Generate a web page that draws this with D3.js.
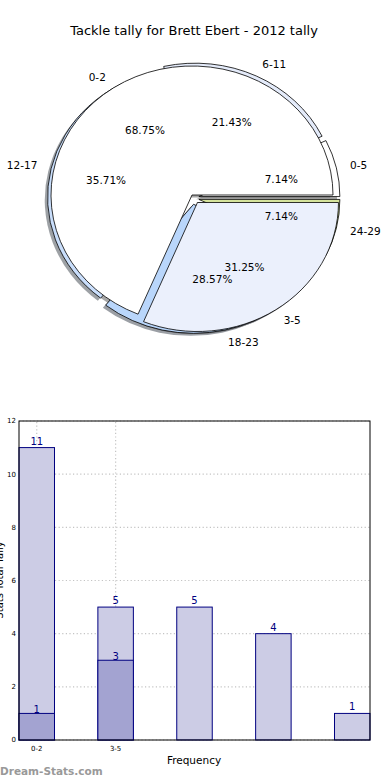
<!DOCTYPE html>
<html>
<head>
<meta charset="utf-8">
<script src="https://cdn.jsdelivr.net/npm/d3@7"></script>
<style>
  body { margin: 0; background: #fff; }
  svg { display: block; font-family: "DejaVu Sans", sans-serif; }
</style>
</head>
<body>
<script>
// pie data (two pies drawn on top of each other)
var innerLabels = ["0-2", "3-5"];
var innerValues = [11, 5];
var innerColors = ["#ffffff", "#ebf0fc"];
var innerExplode = [0, 0.07];

var outerLabels = ["0-5", "6-11", "12-17", "18-23", "24-29"];
var outerValues = [2, 6, 10, 8, 2];
var outerColors = ["#ffffff", "#e4ebfa", "#c9defb", "#b9d6fb", "#d5e39c"];
var outerExplode = [0.05, 0.05, 0.025, 0.05, 0.05];

// bar data
var barLabels = ["0-2", "3-5", "", "", ""];
var barTotals = [11, 5, 5, 4, 1];
var barParts = [1, 3];

var width = 390, height = 780;

var svg = d3.select("body").append("svg")
  .attr("width", width)
  .attr("height", height);

svg.append("text")
  .attr("x", 194)
  .attr("y", 35)
  .attr("text-anchor", "middle")
  .style("font-size", "13px")
  .text("Tackle tally for Brett Ebert - 2012 tally");

var rx = 141, ry = 129, R = 100;

var arc = d3.arc().innerRadius(0).outerRadius(R);

var pie = d3.pie().sort(null).startAngle(0).endAngle(2 * Math.PI);

// all shadows go underneath both pies
var shadowLayer = svg.append("g");
var outerLayer = svg.append("g");
var innerLayer = svg.append("g");

function fmtPct(v, total) {
  return (v / total * 100).toFixed(2) + "%";
}

function drawPie(layer, values, labels, colors, explode, cx, cy) {
  var total = d3.sum(values);
  var slices = pie(values).map(function (d, i) {
    var t1 = d.startAngle, t2 = d.endAngle, tm = (t1 + t2) / 2;
    var ox = explode[i] * rx * Math.cos(tm),
      oy = -explode[i] * ry * Math.sin(tm);
    return {
      value: d.value, i: i, tm: tm,
      x: cx + ox, y: cy + oy,
      // d3.arc measures from 12 o'clock clockwise
      a: { startAngle: Math.PI / 2 - t2, endAngle: Math.PI / 2 - t1 }
    };
  });

  shadowLayer.append("g").selectAll("path")
    .data(slices)
    .enter().append("path")
    .attr("transform", function (d) {
      return "translate(" + (d.x - 0.02 * rx) + "," + (d.y + 0.02 * ry) + ") scale(" + rx / R + "," + ry / R + ")";
    })
    .attr("d", function (d) { return arc(d.a); })
    .attr("fill", function (d) {
      var c = d3.rgb(colors[d.i]);
      return d3.rgb(c.r * 0.3, c.g * 0.3, c.b * 0.3);
    })
    .attr("fill-opacity", 0.5);

  layer.selectAll("path")
    .data(slices)
    .enter().append("path")
    .attr("transform", function (d) {
      return "translate(" + d.x + "," + d.y + ") scale(" + rx / R + "," + ry / R + ")";
    })
    .attr("d", function (d) { return arc(d.a); })
    .attr("fill", function (d) { return colors[d.i]; })
    .attr("stroke", "#000")
    .attr("stroke-width", 0.8)
    .attr("vector-effect", "non-scaling-stroke");

  return slices.map(function (d) {
    return {
      label: labels[d.i],
      pct: fmtPct(d.value, total),
      lx: d.x + 1.1 * rx * Math.cos(d.tm),
      ly: d.y - 1.1 * ry * Math.sin(d.tm),
      px: d.x + 0.6 * rx * Math.cos(d.tm),
      py: d.y - 0.6 * ry * Math.sin(d.tm),
      left: Math.cos(d.tm) > 0
    };
  });
}

var outerText = drawPie(outerLayer, outerValues, outerLabels, outerColors, outerExplode, 192, 198);
var innerText = drawPie(innerLayer, innerValues, innerLabels, innerColors, innerExplode, 192, 195);

var pieText = outerText.concat(innerText);

svg.selectAll("text.slabel")
  .data(pieText)
  .enter().append("text")
  .attr("class", "slabel")
  .attr("x", function (d) { return d.lx; })
  .attr("y", function (d) { return d.ly; })
  .attr("dy", "0.35em")
  .attr("text-anchor", function (d) { return d.left ? "start" : "end"; })
  .style("font-size", "10.5px")
  .text(function (d) { return d.label; });

svg.selectAll("text.pct")
  .data(pieText)
  .enter().append("text")
  .attr("class", "pct")
  .attr("x", function (d) { return d.px; })
  .attr("y", function (d) { return d.py; })
  .attr("dy", "0.35em")
  .attr("text-anchor", "middle")
  .style("font-size", "10.5px")
  .text(function (d) { return d.pct; });

// bar chart
var bx = d3.scaleLinear().domain([0, 4.45]).range([19, 370]);
var by = d3.scaleLinear().domain([0, 12]).range([740, 421]);
var bw = 0.45;

var grid = svg.append("g")
  .attr("stroke", "#c4c4c4")
  .attr("stroke-width", 1.2)
  .attr("stroke-dasharray", "1.2,2.4");

grid.selectAll("line.h")
  .data(by.ticks(6))
  .enter().append("line")
  .attr("x1", bx(0)).attr("x2", bx(4.45))
  .attr("y1", function (d) { return by(d); })
  .attr("y2", function (d) { return by(d); });

var xTicks = barLabels.map(function (l, i) { return { l: l, i: i }; })
  .filter(function (d) { return d.l !== ""; });

grid.selectAll("line.v")
  .data(xTicks)
  .enter().append("line")
  .attr("x1", function (d) { return bx(d.i + bw / 2); })
  .attr("x2", function (d) { return bx(d.i + bw / 2); })
  .attr("y1", by(0)).attr("y2", by(12));

svg.selectAll("rect.total")
  .data(barTotals)
  .enter().append("rect")
  .attr("class", "total")
  .attr("x", function (d, i) { return bx(i); })
  .attr("y", function (d) { return by(d); })
  .attr("width", bx(bw) - bx(0))
  .attr("height", function (d) { return by(0) - by(d); })
  .attr("fill", "#ccccE5")
  .attr("stroke", "#000080")
  .attr("stroke-width", 1);

svg.selectAll("rect.part")
  .data(barParts)
  .enter().append("rect")
  .attr("class", "part")
  .attr("x", function (d, i) { return bx(i); })
  .attr("y", function (d) { return by(d); })
  .attr("width", bx(bw) - bx(0))
  .attr("height", function (d) { return by(0) - by(d); })
  .attr("fill", "#a3a3d1")
  .attr("stroke", "#000080")
  .attr("stroke-width", 1);

svg.selectAll("text.vt")
  .data(barTotals)
  .enter().append("text")
  .attr("class", "vt")
  .attr("x", function (d, i) { return bx(i + bw / 2); })
  .attr("y", function (d) { return by(d) - 3; })
  .attr("text-anchor", "middle")
  .attr("fill", "#000080")
  .style("font-size", "10px")
  .text(function (d) { return d; });

svg.selectAll("text.vp")
  .data(barParts)
  .enter().append("text")
  .attr("class", "vp")
  .attr("x", function (d, i) { return bx(i + bw / 2); })
  .attr("y", function (d) { return by(d) - 0.5; })
  .attr("text-anchor", "middle")
  .attr("fill", "#000080")
  .style("font-size", "10px")
  .text(function (d) { return d; });

// axes frame
svg.append("rect")
  .attr("x", bx(0)).attr("y", by(12))
  .attr("width", bx(4.45) - bx(0))
  .attr("height", by(0) - by(12))
  .attr("fill", "none")
  .attr("stroke", "#000")
  .attr("stroke-width", 1);

svg.selectAll("text.ytick")
  .data(by.ticks(6))
  .enter().append("text")
  .attr("class", "ytick")
  .attr("x", 16)
  .attr("y", function (d) { return by(d); })
  .attr("dy", "0.35em")
  .attr("text-anchor", "end")
  .style("font-size", "7px")
  .text(function (d) { return d; });

svg.selectAll("text.xtick")
  .data(xTicks)
  .enter().append("text")
  .attr("class", "xtick")
  .attr("x", function (d) { return bx(d.i + bw / 2); })
  .attr("y", 751)
  .attr("text-anchor", "middle")
  .style("font-size", "7px")
  .text(function (d) { return d.l; });

svg.append("text")
  .attr("x", 194)
  .attr("y", 764)
  .attr("text-anchor", "middle")
  .style("font-size", "10.5px")
  .text("Frequency");

// the reference crops this label at the left edge
svg.append("text")
  .attr("transform", "translate(3,580) rotate(-90)")
  .attr("text-anchor", "middle")
  .style("font-size", "10px")
  .text("Stats Total Tally");

svg.append("text")
  .attr("x", 0)
  .attr("y", 775)
  .attr("fill", "#999")
  .style("font-size", "10.5px")
  .style("font-weight", "bold")
  .text("Dream-Stats.com");
</script>
</body>
</html>
